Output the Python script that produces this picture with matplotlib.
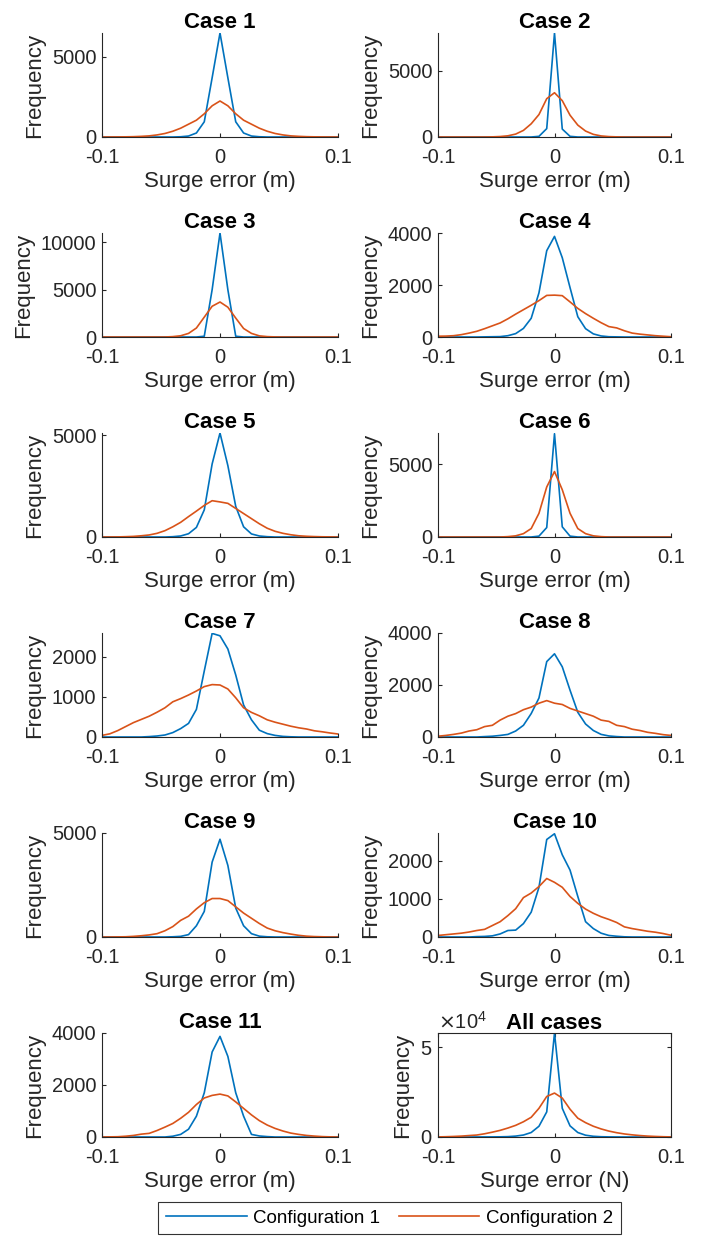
import numpy as np
import matplotlib
matplotlib.use("Agg")
import matplotlib.pyplot as plt
from matplotlib.ticker import ScalarFormatter

plt.rcParams['font.family'] = ['Liberation Sans', 'DejaVu Sans']

# histogram bin centres (surge error, m)
surge_err = np.linspace(-0.1, 0.1, 31)

case_titles = ["Case 1", "Case 2", "Case 3", "Case 4", "Case 5", "Case 6",
               "Case 7", "Case 8", "Case 9", "Case 10", "Case 11", "All cases"]
x_labels = ["Surge error (m)"] * 11 + ["Surge error (N)"]
series_labels = ["Configuration 1", "Configuration 2"]

# configuration 1 frequencies
c1_b = [0, 0, 0, 0, 0, 0, 0, 0, 0, 0, 15, 60, 250, 950, 3700, 6500, 3700, 950, 250, 60, 15, 0, 0, 0, 0, 0, 0, 0, 0, 0, 0]
c2_b = [0] * 13 + [50, 635, 7870, 600, 50] + [0] * 13
c3_b = [0] * 13 + [80, 5000, 11000, 5000, 80] + [0] * 13
c4_b = [0, 0, 0, 0, 0, 0, 5, 10, 15, 50, 130, 330, 720, 1700, 3320, 3870, 3050, 1900, 780, 320, 120, 40, 10, 5, 0, 0, 0, 0, 0, 0, 0]
c5_b = [0] * 9 + [15, 50, 160, 470, 1330, 3580, 5100, 3500, 1500, 500, 150, 50, 15] + [0] * 9
c6_b = [0] * 13 + [60, 650, 7100, 700, 60] + [0] * 13
c7_b = [0, 0, 0, 0, 0, 0, 10, 25, 50, 110, 210, 340, 690, 1650, 2590, 2530, 2200, 1550, 800, 430, 170, 85, 40, 15, 5, 0, 0, 0, 0, 0, 0]
c8_b = [0, 0, 0, 0, 0, 0, 15, 30, 60, 100, 230, 450, 900, 1500, 2900, 3200, 2700, 1800, 950, 500, 250, 100, 40, 15, 0, 0, 0, 0, 0, 0, 0]
c9_b = [0] * 9 + [10, 30, 115, 540, 1230, 3600, 4700, 3440, 1390, 540, 160, 40, 10] + [0] * 9
c10_b = [0, 0, 0, 0, 0, 10, 15, 30, 80, 170, 180, 350, 650, 1300, 2550, 2700, 2150, 1750, 1060, 400, 220, 100, 40, 20, 5, 0, 0, 0, 0, 0, 0]
c11_b = [0] * 9 + [30, 100, 300, 800, 1700, 3270, 3870, 3100, 1700, 800, 100, 40, 15] + [0] * 9
all_b = [0, 0, 0, 0, 10, 20, 40, 60, 100, 200, 500, 1100, 2500, 6000, 14000, 58000, 16000, 6200, 2500, 1000, 400, 150, 60, 30, 10, 0, 0, 0, 0, 0, 0]

# configuration 2 frequencies
c1_o = [0, 2, 5, 10, 20, 40, 70, 130, 220, 360, 550, 800, 1050, 1450, 1950, 2250, 1950, 1450, 1050, 800, 550, 360, 220, 130, 70, 40, 20, 10, 5, 2, 0]
c2_o = [0, 0, 0, 0, 0, 0, 0, 10, 35, 90, 220, 500, 1000, 1700, 2900, 3350, 2750, 1650, 900, 450, 200, 80, 30, 10, 0, 0, 0, 0, 0, 0, 0]
c3_o = [0, 0, 0, 0, 0, 0, 0, 0, 0, 40, 130, 380, 950, 2100, 3250, 3700, 3150, 2000, 900, 380, 120, 40, 10, 0, 0, 0, 0, 0, 0, 0, 0]
c4_o = [30, 35, 50, 90, 150, 220, 320, 430, 540, 700, 880, 1050, 1220, 1400, 1600, 1610, 1590, 1350, 1100, 900, 720, 550, 400, 350, 240, 150, 110, 80, 50, 30, 10]
c5_o = [0, 2, 5, 15, 30, 60, 100, 180, 310, 500, 720, 1000, 1270, 1550, 1780, 1720, 1650, 1400, 1150, 900, 650, 430, 280, 180, 110, 60, 35, 20, 10, 5, 0]
c6_o = [0] * 9 + [25, 80, 230, 580, 1630, 3440, 4500, 3250, 1630, 580, 230, 80, 25] + [0] * 9
c7_o = [40, 80, 160, 260, 360, 440, 520, 620, 730, 880, 960, 1050, 1150, 1260, 1310, 1300, 1200, 980, 730, 615, 530, 430, 370, 320, 270, 230, 200, 155, 130, 100, 75]
c8_o = [30, 60, 100, 150, 230, 280, 400, 450, 650, 800, 900, 1050, 1150, 1300, 1400, 1300, 1250, 1100, 1000, 900, 800, 650, 600, 450, 400, 300, 250, 180, 140, 90, 60]
c9_o = [0, 0, 5, 10, 30, 60, 100, 160, 300, 500, 800, 1000, 1350, 1650, 1850, 1850, 1750, 1450, 1150, 900, 650, 430, 300, 210, 140, 80, 40, 20, 10, 0, 0]
c10_o = [40, 60, 80, 100, 130, 170, 200, 300, 400, 560, 740, 1030, 1150, 1320, 1530, 1430, 1300, 1060, 880, 730, 620, 530, 460, 380, 265, 220, 185, 150, 125, 90, 45]
c11_o = [0, 5, 10, 30, 60, 110, 140, 250, 380, 520, 720, 950, 1250, 1500, 1600, 1650, 1580, 1350, 1100, 850, 630, 460, 330, 230, 150, 100, 60, 35, 15, 5, 0]
all_o = [50, 150, 300, 500, 800, 1100, 1800, 2700, 3700, 5000, 6500, 8500, 11000, 16000, 22600, 24500, 21700, 15500, 10500, 8000, 6000, 4500, 3300, 2400, 1700, 1200, 800, 500, 300, 150, 50]

config1 = [c1_b, c2_b, c3_b, c4_b, c5_b, c6_b, c7_b, c8_b, c9_b, c10_b, c11_b, all_b]
config2 = [c1_o, c2_o, c3_o, c4_o, c5_o, c6_o, c7_o, c8_o, c9_o, c10_o, c11_o, all_o]

y_tops = [6500, 7870, 11000, 4000, 5100, 7150, 2600, 4000, 5000, 2720, 4000, 58000]
y_ticks = [[0, 5000], [0, 5000], [0, 5000, 10000], [0, 2000, 4000], [0, 5000], [0, 5000],
           [0, 1000, 2000], [0, 2000, 4000], [0, 5000], [0, 1000, 2000], [0, 2000, 4000], [0, 50000]]

blue = '#0072BD'
orange = '#D95319'
gray = '#262626'

W, H = 703, 1236
fig = plt.figure(figsize=(W / 100, H / 100), dpi=100)

col_left = [102, 438]
col_width = [236, 233]

lines = []
for k in range(12):
    row, col = k // 2, k % 2
    top = 33 + 200 * row
    ax = fig.add_axes([col_left[col] / W, 1 - (top + 104) / H, col_width[col] / W, 104 / H])
    l1, = ax.plot(surge_err, config1[k], color=blue, lw=1.2)
    l2, = ax.plot(surge_err, config2[k], color=orange, lw=1.2)
    lines = [l1, l2]
    ax.set_xlim(-0.1, 0.1)
    ax.set_ylim(0, y_tops[k])
    ax.set_xticks([-0.1, 0, 0.1], ["-0.1", "0", "0.1"])
    ax.set_yticks(y_ticks[k])
    boxed = (k == 11)
    for side in ['top', 'right']:
        ax.spines[side].set_visible(boxed)
    for s in ax.spines.values():
        s.set_color(gray)
        s.set_linewidth(0.8)
    ax.tick_params(direction='in', length=3, width=0.8, colors=gray, labelsize=14.5,
                   top=boxed, right=boxed)
    ax.tick_params(axis='x', pad=8)
    ax.tick_params(axis='y', pad=4)
    if boxed:
        fmt = ScalarFormatter(useMathText=True)
        fmt.set_powerlimits((0, 0))
        ax.yaxis.set_major_formatter(fmt)
        ax.yaxis.get_offset_text().set_fontsize(14.5)
        ax.yaxis.get_offset_text().set_color(gray)
    ax.set_title(case_titles[k], fontsize=16, fontweight='bold', pad=3)
    ax.set_xlabel(x_labels[k], fontsize=16, color=gray, labelpad=3)
    ax.set_ylabel("Frequency", fontsize=16, color=gray, labelpad=5)

leg = fig.legend(lines, series_labels, loc='upper center', bbox_to_anchor=(389.5 / W, 1 - 1202 / H),
                 ncol=2, fontsize=13.5, frameon=True, fancybox=False, handlelength=4.3,
                 handletextpad=0.35, columnspacing=1.0, borderpad=0.4, borderaxespad=0)
leg.get_frame().set_edgecolor('black')
leg.get_frame().set_linewidth(0.8)

plt.savefig("out.png", dpi=100)
